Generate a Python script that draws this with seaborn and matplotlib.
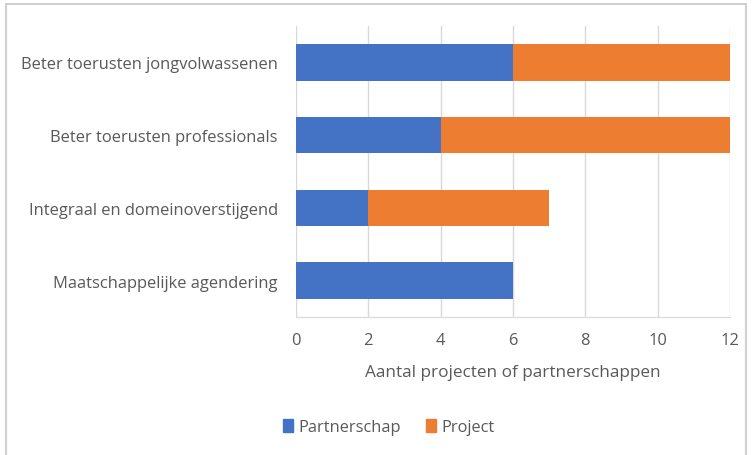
import matplotlib
matplotlib.use("Agg")
import matplotlib.pyplot as plt
import seaborn as sns
import pandas as pd
from matplotlib.patches import Rectangle, Patch

categories = ["Beter toerusten jongvolwassenen", "Beter toerusten professionals",
              "Integraal en domeinoverstijgend", "Maatschappelijke agendering"]
partnerschap = [6, 4, 2, 6]
project = [6, 8, 5, 0]

blue = "#4472C4"
orange = "#ED7D31"
text_col = "#595959"

sns.set_style("white")
plt.rcParams["font.family"] = ["Open Sans", "DejaVu Sans"]

df = pd.DataFrame({"cat": categories, "Partnerschap": partnerschap,
                   "Totaal": [a + b for a, b in zip(partnerschap, project)]})

fig = plt.figure(figsize=(7.52, 4.56), dpi=100)
ax = fig.add_axes([296 / 752, 1 - 318 / 456, 434 / 752, 291 / 456])

sns.barplot(data=df, y="cat", x="Totaal", color=orange, width=0.5, saturation=1,
            ax=ax, orient="h", linewidth=0)
sns.barplot(data=df, y="cat", x="Partnerschap", color=blue, width=0.5, saturation=1,
            ax=ax, orient="h", linewidth=0)

ax.set_xlim(0, 12)
ax.set_xticks(range(0, 13, 2))
ax.set_ylim(3.5, -0.5)
ax.grid(axis="x", color="#D9D9D9", linewidth=1)
ax.set_axisbelow(True)
for s in ["top", "right", "left"]:
    ax.spines[s].set_visible(False)
ax.spines["bottom"].set_color("#D9D9D9")
ax.tick_params(axis="both", length=0, labelsize=11.9, colors=text_col)
ax.tick_params(axis="y", pad=13)
ax.tick_params(axis="x", pad=11)
ax.set_ylabel("")
ax.set_xlabel("Aantal projecten of partnerschappen", fontsize=12.3, color=text_col, labelpad=11)

handles = [Patch(color=blue, label="Partnerschap"), Patch(color=orange, label="Project")]
fig.legend(handles=handles, loc="center", bbox_to_anchor=(389 / 752, 1 - 428 / 456), ncol=2,
           frameon=False, fontsize=11.8, labelcolor=text_col, handlelength=0.6,
           handleheight=0.8, handletextpad=0.35, columnspacing=1.5)

fig.patches.append(Rectangle((6 / 752, -0.1), 740 / 752, 1.1 - 5 / 456,
                             transform=fig.transFigure, fill=False,
                             edgecolor="#D0D0D0", linewidth=1.5))

fig.savefig("out.png", dpi=100)
